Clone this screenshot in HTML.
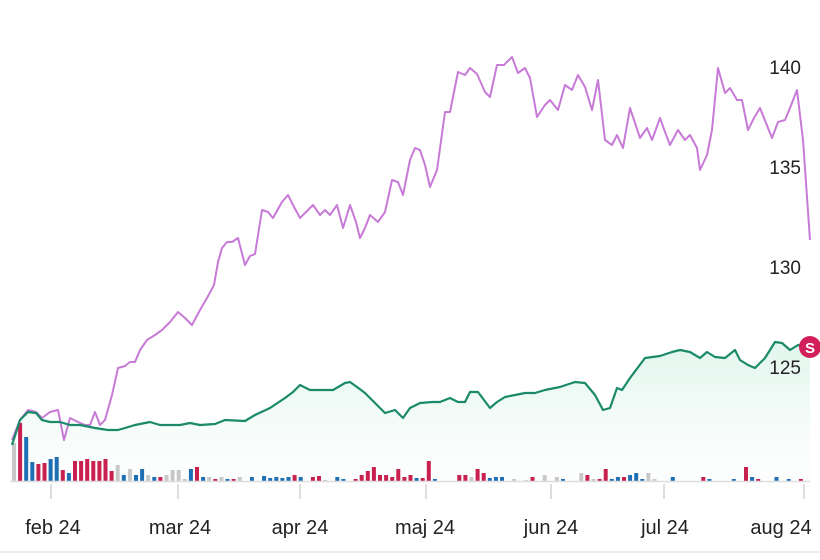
<!DOCTYPE html>
<html><head><meta charset="utf-8"><style>
html,body{margin:0;padding:0;background:#fff;width:820px;height:560px;overflow:hidden}
svg{display:block}
text{font-family:"Liberation Sans",sans-serif;fill:#222}
</style></head><body>
<svg id="s" width="820" height="560" viewBox="0 0 820 560">
<defs><linearGradient id="g" x1="0" y1="0" x2="0" y2="1"><stop offset="0" stop-color="#c8eedd" stop-opacity="0.55"/><stop offset="1" stop-color="#e8f7f0" stop-opacity="0.1"/></linearGradient></defs>
<path id="area" fill="url(#g)" stroke="none"/>
<g font-size="19" text-anchor="end">
<text x="801" y="74">140</text><text x="801" y="174">135</text><text x="801" y="274">130</text><text x="801" y="374">125</text>
</g>
<g id="bars"></g>
<line x1="10" y1="481.5" x2="810" y2="481.5" stroke="#ddd" stroke-width="1.5"/>
<g stroke="#ddd" stroke-width="2">
<line x1="51" y1="484" x2="51" y2="499"/><line x1="178" y1="484" x2="178" y2="499"/><line x1="300" y1="484" x2="300" y2="499"/><line x1="426" y1="484" x2="426" y2="499"/><line x1="551" y1="484" x2="551" y2="499"/><line x1="664" y1="484" x2="664" y2="499"/><line x1="804" y1="484" x2="804" y2="499"/>
</g>
<g font-size="20" text-anchor="middle">
<text x="53" y="534">feb 24</text><text x="180" y="534">mar 24</text><text x="300" y="534">apr 24</text><text x="425" y="534">maj 24</text><text x="551" y="534">jun 24</text><text x="665" y="534">jul 24</text><text x="781" y="534">aug 24</text>
</g>
<line x1="0" y1="552" x2="820" y2="552" stroke="#e6e6e6" stroke-width="1.5"/>
<polyline id="p" fill="none" stroke="#c77ad6" stroke-width="2" stroke-linejoin="round"/>
<polyline id="gr" fill="none" stroke="#1a8a6a" stroke-width="2.2" stroke-linejoin="round"/>
<circle cx="810" cy="347" r="11" fill="#d11f5a"/>
<text x="810" y="353" font-size="15" font-weight="bold" text-anchor="middle" style="fill:#fff">S</text>
</svg>
<script>
var P="12,440 20,420 28,410 36,412 42,418 50,412 58,410 64,440 70,418 78,422 85,425 90,425 95,412 100,425 105,420 112,395 118,368 125,366 130,362 135,362 140,350 147,340 155,335 162,330 170,322 178,312 185,318 192,325 200,310 207,298 214,285 218,262 222,248 227,242 232,242 238,238 245,265 250,256 255,254 262,210 268,212 273,218 282,202 288,195 293,205 300,218 306,212 313,205 320,215 325,210 330,215 337,205 343,228 350,205 356,222 360,238 365,228 370,215 378,222 385,212 392,180 398,182 403,195 410,160 415,148 420,150 425,165 430,187 437,170 445,112 450,112 458,72 465,75 470,68 477,74 485,92 490,97 497,65 504,65 512,57 518,73 525,68 530,78 537,117 545,105 550,100 558,110 565,85 572,90 578,75 585,87 592,110 598,80 605,140 612,145 617,135 623,148 630,108 635,123 640,138 647,128 652,140 660,118 665,132 670,145 678,130 685,140 690,135 697,148 700,170 707,155 712,130 718,68 725,93 730,88 737,100 742,100 748,130 754,118 760,108 768,128 772,138 778,122 785,120 790,108 797,90 803,140 810,240";
var G="12,445 20,420 28,412 36,413 42,420 50,422 60,422 70,425 80,425 95,428 108,430 118,430 125,428 135,425 150,422 160,425 180,425 190,423 200,425 215,424 225,420 245,421 255,415 270,408 285,398 293,392 300,385 310,390 320,390 333,390 345,383 350,382 357,387 365,393 375,403 385,413 395,410 403,418 410,408 420,403 432,402 440,402 450,398 458,402 465,402 470,392 478,392 490,408 497,402 505,397 515,395 525,393 535,393 545,390 560,387 575,382 585,383 595,395 603,410 610,408 617,388 622,390 630,378 645,358 660,356 672,352 680,350 690,352 700,358 707,352 715,357 725,358 735,350 740,360 748,365 755,368 765,358 775,342 782,343 790,350 798,345 810,348";
document.getElementById('p').setAttribute('points',P);
document.getElementById('gr').setAttribute('points',G);
document.getElementById('area').setAttribute('d','M'+G.split(' ').join(' L')+' L810,481 L12,481 Z');
var R="#c8204f",B="#1f6fb5",Y="#c8c8c8";
var b=[[Y,38],[R,58],[B,44],[B,19],[R,17],[R,18],[B,22],[B,24],[R,11],[B,8],[R,20],[R,20],[R,22],[R,20],[R,20],[R,22],[R,10],[Y,16],[B,6],[Y,12],[B,6],[B,12],[Y,6],[B,4],[R,4],[Y,6],[Y,11],[Y,11],[Y,2],[B,12],[R,14],[B,4],[Y,4],[R,2],[Y,4],[B,2],[R,2],[Y,4],[0,0],[B,4],[0,0],[B,5],[B,3],[B,4],[B,3],[B,4],[R,6],[B,4],[0,0],[R,4],[R,5],[Y,1],[0,0],[B,4],[B,2],[0,0],[R,2],[R,6],[R,10],[R,14],[R,6],[R,6],[R,4],[R,12],[R,4],[R,6],[B,3],[R,3],[R,20],[B,2],[0,0],[0,0],[0,0],[R,6],[R,6],[Y,4],[R,12],[R,8],[B,3],[B,4],[B,4],[0,0],[Y,2],[0,0],[Y,1],[R,4],[0,0],[Y,6],[0,0],[Y,4],[B,2],[0,0],[0,0],[Y,8],[R,6],[Y,2],[R,2],[R,12],[B,2],[B,4],[R,4],[B,6],[B,8],[B,2],[Y,8],[Y,2],[0,0],[0,0],[B,4],[0,0],[0,0],[0,0],[0,0],[R,4],[B,2],[0,0],[0,0],[0,0],[B,2],[0,0],[R,14],[B,4],[R,2],[0,0],[0,0],[B,4],[0,0],[B,2],[0,0],[R,2]];
var h='',step=(805-12)/b.length;
b.forEach(function(e,i){if(e[0]){h+='<rect x="'+(12+i*step).toFixed(1)+'" y="'+(481-e[1])+'" width="4" height="'+e[1]+'" fill="'+e[0]+'"/>';}});
document.getElementById('bars').innerHTML=h;
</script>
</body></html>
